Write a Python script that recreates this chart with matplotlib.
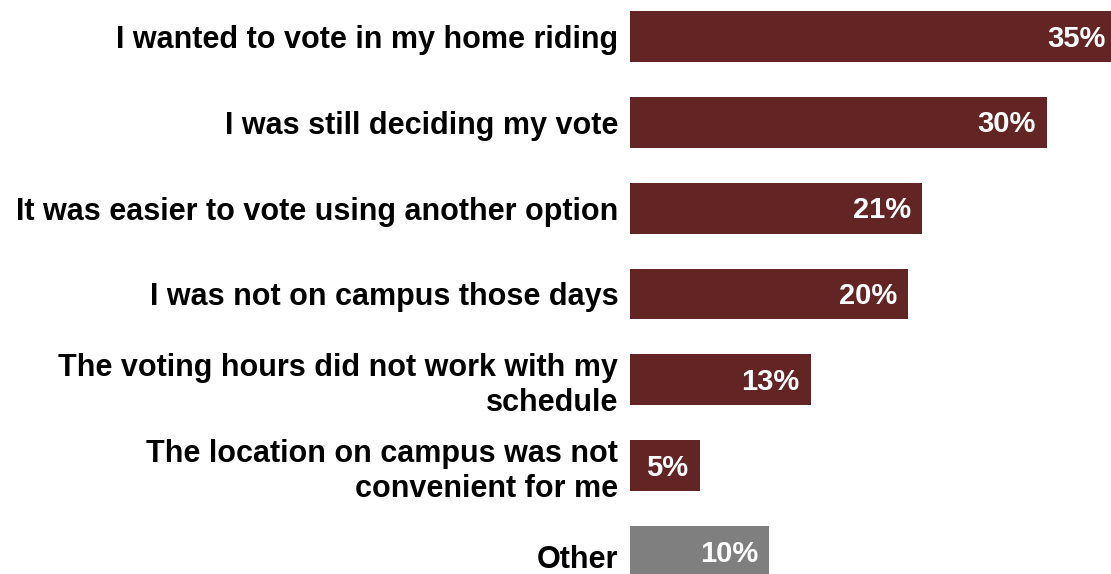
import matplotlib
matplotlib.use("Agg")
from matplotlib import pyplot as plt
from matplotlib.transforms import ScaledTranslation

reasons = [
    "I wanted to vote in my home riding",
    "I was still deciding my vote",
    "It was easier to vote using another option",
    "I was not on campus those days",
    "The voting hours did not work with my\nschedule",
    "The location on campus was not\nconvenient for me",
    "Other",
]
shares = [35, 30, 21, 20, 13, 5, 10]
bar_colors = ["#632424"] * 6 + ["#7f7f7f"]

plt.rcParams["font.family"] = ["Liberation Sans", "DejaVu Sans"]

fig = plt.figure(figsize=(11.11, 5.74), dpi=100)
ax = fig.add_axes([630 / 1111, 0, 1 - 630 / 1111, 1])

ypos = list(range(len(reasons)))
bars = ax.barh(ypos, shares, height=0.594, color=bar_colors)

for b, v in zip(bars, shares):
    ax.annotate(f"{v}%", xy=(b.get_width(), b.get_y() + b.get_height() / 2),
                xytext=(-8, -1.5), textcoords="offset points",
                ha="right", va="center", color="white",
                fontsize=21, fontweight="bold", annotation_clip=False)

ax.set_yticks(ypos)
ax.set_yticklabels(reasons, fontsize=22, fontweight="bold", ha="right",
                   linespacing=1.2)
ax.tick_params(axis="y", length=0, pad=8.5)
ax.set_xticks([])
ax.set_xlim(0, 34.6)
ax.set_ylim(6.262, -0.425)
for s in ax.spines.values():
    s.set_visible(False)

# "Other" sits a little lower than its bar
last = ax.get_yticklabels()[-1]
last.set_transform(last.get_transform() + ScaledTranslation(0, -0.05, fig.dpi_scale_trans))

plt.savefig("out.png", dpi=100)
